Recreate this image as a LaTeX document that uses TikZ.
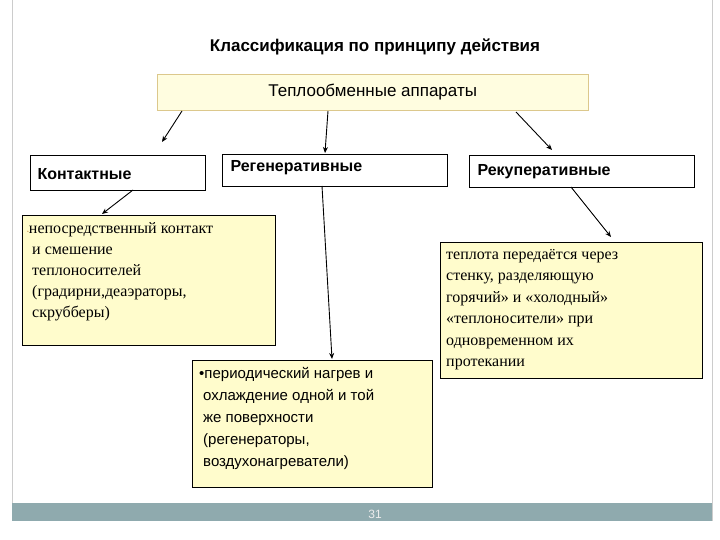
\documentclass[tikz,border=0pt]{standalone}
\usepackage{fontspec}
\usetikzlibrary{arrows.meta}
\setmainfont{Liberation Serif}
\setsansfont{Liberation Sans}
\begin{document}
\begin{tikzpicture}[x=1pt,y=-1pt,
 hdr/.style={draw=black,fill=white,anchor=north west,inner sep=0pt},
 hfont/.style={font=\sffamily\bfseries\fontsize{16}{18}\selectfont,anchor=west},
 note/.style={draw=black,fill=yellow!20,anchor=north west,inner sep=0pt,line width=0.8pt},
 arr/.style={-{Stealth[length=6pt,width=5pt]},line width=0.9pt}]
\useasboundingbox (0,0) rectangle (720,540);
\fill[white] (0,0) rectangle (720,540);
\draw[gray!40] (12,0) -- (12,521) (712,0) -- (712,521);
\fill[color={rgb,255:red,143;green,170;blue,174}] (12,503) rectangle (712,521);
\node[font=\sffamily\fontsize{12}{13}\selectfont,text=white!85!gray] (pg) at (375,514) {31};
\node[font=\sffamily\bfseries\fontsize{17}{19}\selectfont] (title) at (375,47) {Классификация по принципу действия};
\node[draw={rgb,255:red,220;green,200;blue,140},fill=yellow!12,minimum width=431pt,minimum height=36pt,anchor=north west,inner sep=0pt,font=\sffamily\fontsize{17}{19}\selectfont] (top) at (157,74) {Теплообменные аппараты};
\node[hdr,minimum width=175pt,minimum height=35pt] (k) at (30,155) {};
\node[hfont] (kl) at (34,174) {Контактные};
\node[hdr,minimum width=225pt,minimum height=32pt] (r) at (222,154) {};
\node[hfont] (rl) at (227,168) {Регенеративные};
\node[hdr,minimum width=225pt,minimum height=32pt] (p) at (469,155) {};
\node[hfont] (pl) at (474,172) {Рекуперативные};
\node[note,minimum width=253pt,minimum height=130pt] (kt) at (22,215) {};
\node[anchor=north west,align=left,inner sep=0pt,font=\fontsize{16}{21}\selectfont] (ktx) at (27,222) {{\color{brown}\tiny\textbullet}непосредственный контакт\\\hspace*{5pt}и смешение\\\hspace*{5pt}теплоносителей\\\hspace*{5pt}(градирни,деаэраторы,\\\hspace*{5pt}скрубберы)};
\node[note,minimum width=262pt,minimum height=136pt] (pt) at (440,242) {};
\node[anchor=north west,align=left,inner sep=0pt,font=\fontsize{16}{21.5}\selectfont] (ptx) at (446,249) {теплота передаётся через\\стенку, разделяющую\\горячий» и «холодный»\\«теплоносители» при\\одновременном их\\протекании};
\node[note,minimum width=240pt,minimum height=127pt] (rt) at (192,360) {};
\node[anchor=north west,align=left,inner sep=0pt,font=\sffamily\fontsize{15}{22}\selectfont] (rtx) at (199,367) {•периодический нагрев и\\\hspace*{4pt}охлаждение одной и той\\\hspace*{4pt}же поверхности\\\hspace*{4pt}(регенераторы,\\\hspace*{4pt}воздухонагреватели)};
\coordinate (a1) at (182,111); \coordinate (b1) at (162,142);
\coordinate (a2) at (328,111); \coordinate (b2) at (325,153);
\coordinate (a3) at (516,112); \coordinate (b3) at (552,150);
\coordinate (a4) at (133,190); \coordinate (b4) at (102,214);
\coordinate (a5) at (322,186); \coordinate (b5) at (332,359);
\coordinate (a6) at (571,187); \coordinate (b6) at (611,237);
\foreach \i in {1,...,6} \draw[arr] (a\i) -- (b\i);
\end{tikzpicture}
\end{document}
